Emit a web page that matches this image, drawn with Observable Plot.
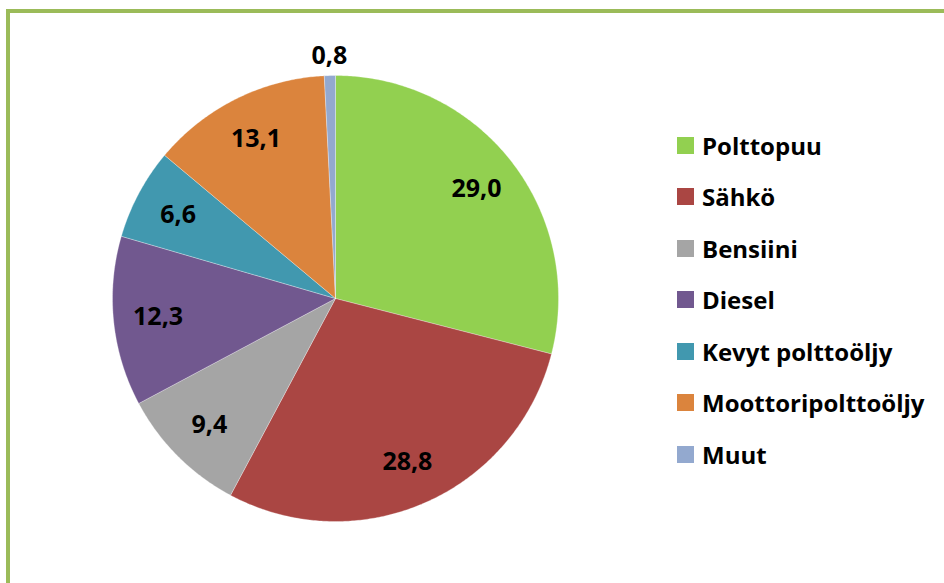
<!DOCTYPE html>
<html>
<head>
<meta charset="utf-8">
<script src="https://cdn.jsdelivr.net/npm/d3@7"></script>
<script src="https://cdn.jsdelivr.net/npm/@observablehq/plot@0.6"></script>
<style>
  html, body { margin: 0; padding: 0; background: #fff; overflow: hidden; }
  #wrap { position: relative; width: 944px; height: 583px; overflow: hidden; font-family: "Open Sans", Lato, sans-serif; }
  #frame { position: absolute; left: 6px; top: 9px; width: 1000px; height: 700px; border: 4px solid #9BBB59; box-sizing: border-box; }
  #chart { position: absolute; left: 0; top: 0; }
  #legend { position: absolute; left: 677px; top: 136px; }
  .item { position: absolute; left: 0; height: 18px; display: flex; align-items: center; white-space: nowrap; }
  .sw { width: 17px; height: 17px; margin-right: 8px; flex: none; }
  .lab { font-weight: bold; font-size: 24px; color: #000; line-height: 17px; letter-spacing: 0px; }
</style>
</head>
<body>
<div id="wrap">
  <div id="frame"></div>
  <div id="chart"></div>
  <div id="legend"></div>
</div>
<script>
const categories = ["Polttopuu", "Sähkö", "Bensiini", "Diesel", "Kevyt polttoöljy", "Moottoripolttoöljy", "Muut"];
const values = [29.0, 28.8, 9.4, 12.3, 6.6, 13.1, 0.8];
const valueLabels = ["29,0", "28,8", "9,4", "12,3", "6,6", "13,1", "0,8"];
const colors = ["#92D050", "#AA4643", "#A5A5A5", "#71588F", "#4198AF", "#DB843D", "#93A9CF"];

const data = categories.map((name, i) => ({name, value: values[i], label: valueLabels[i]}));
const pie = d3.pie().sort(null).value(d => d.value).startAngle(0).endAngle(2 * Math.PI);
const arcs = pie(data);

// polygon points for each slice (unit radius, clockwise from 12 o'clock)
const slicePoints = [];
for (const a of arcs) {
  const name = a.data.name;
  slicePoints.push({name, x: 0, y: 0});
  const steps = Math.max(2, Math.ceil((a.endAngle - a.startAngle) / (Math.PI / 360)));
  for (let k = 0; k <= steps; k++) {
    const t = a.startAngle + (a.endAngle - a.startAngle) * k / steps;
    slicePoints.push({name, x: Math.sin(t), y: Math.cos(t)});
  }
  slicePoints.push({name, x: 0, y: 0});
}

const labelPoints = arcs.map(a => {
  const mid = (a.startAngle + a.endAngle) / 2;
  const r = a.data.value < 2 ? 1.09 : 0.8;
  return {label: a.data.label, x: r * Math.sin(mid), y: r * Math.cos(mid)};
});

const chart = Plot.plot({
  width: 944,
  height: 583,
  marginLeft: 112,
  marginRight: 386,
  marginTop: 75,
  marginBottom: 62,
  style: {background: "transparent", fontFamily: "'Open Sans', Lato, sans-serif"},
  x: {domain: [-1, 1], axis: null},
  y: {domain: [-1, 1], axis: null},
  color: {domain: categories, range: colors},
  marks: [
    Plot.line(slicePoints, {x: "x", y: "y", z: "name", fill: "name", stroke: "#ffffff", strokeWidth: 0.5, strokeOpacity: 0.6, curve: "linear"}),
    Plot.text(labelPoints, {x: "x", y: "y", text: "label", fontSize: 25, fontWeight: "bold", fill: "#000"})
  ]
});
document.getElementById("chart").appendChild(chart);

const legend = document.getElementById("legend");
categories.forEach((c, i) => {
  const it = document.createElement("div");
  it.className = "item";
  it.style.top = (i * 51.5) + "px";
  const sw = document.createElement("div");
  sw.className = "sw";
  sw.style.background = colors[i];
  const lab = document.createElement("span");
  lab.className = "lab";
  lab.textContent = c;
  it.appendChild(sw);
  it.appendChild(lab);
  legend.appendChild(it);
});
</script>
</body>
</html>
